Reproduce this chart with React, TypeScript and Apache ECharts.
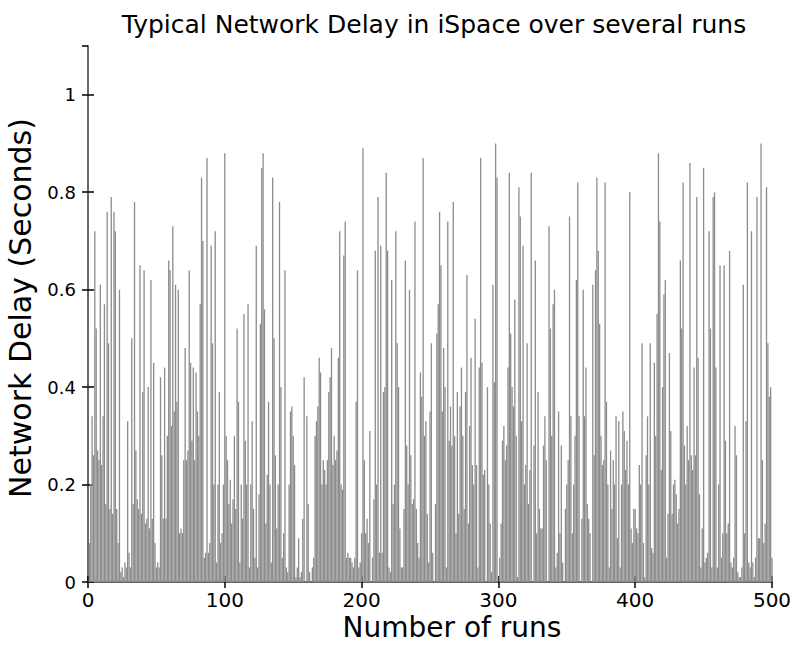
import React, { useEffect, useRef } from "react";
import * as echarts from "echarts";

const runs1to100 = [
  0.08, 0.2, 0.34, 0.26, 0.72, 0.52, 0.27, 0.25, 0.61, 0.24,
  0.34, 0.57, 0.16, 0.76, 0.49, 0.15, 0.79, 0.14, 0.76, 0.72,
  0.15, 0.08, 0.6, 0.02, 0.03, 0.01, 0.04, 0.03, 0.33, 0.06,
  0.03, 0.5, 0.16, 0.78, 0.27, 0.17, 0.15, 0.65, 0.14, 0.39,
  0.64, 0.12, 0.13, 0.4, 0.11, 0.62, 0.13, 0.45, 0.08, 0.03,
  0.04, 0.03, 0.42, 0.26, 0.13, 0.44, 0.13, 0.3, 0.66, 0.64,
  0.32, 0.73, 0.35, 0.61, 0.37, 0.6, 0.1, 0.11, 0.1, 0.25,
  0.48, 0.25, 0.27, 0.64, 0.45, 0.29, 0.44, 0.25, 0.43, 0.35,
  0.3, 0.57, 0.83, 0.7, 0.05, 0.06, 0.87, 0.06, 0.08, 0.69,
  0.49, 0.2, 0.72, 0.04, 0.2, 0.39, 0.08, 0.1, 0.2, 0.88,
];
const runs101to200 = [
  0.3, 0.25, 0.16, 0.21, 0.12, 0.17, 0.3, 0.15, 0.52, 0.37,
  0.04, 0.2, 0.13, 0.55, 0.29, 0.2, 0.57, 0.03, 0.2, 0.33,
  0.15, 0.05, 0.69, 0.03, 0.18, 0.53, 0.85, 0.88, 0.56, 0.12,
  0.22, 0.37, 0.2, 0.04, 0.83, 0.5, 0.26, 0.11, 0.2, 0.78,
  0.4, 0.05, 0.1, 0.64, 0.03, 0.02, 0.2, 0.35, 0.36, 0.3,
  0.24, 0.01, 0.03, 0.09, 0.01, 0.02, 0.13, 0.42, 0.0, 0.34,
  0.16, 0.02, 0.0, 0.03, 0.05, 0.3, 0.33, 0.36, 0.46, 0.43,
  0.2, 0.25, 0.23, 0.2, 0.25, 0.39, 0.42, 0.48, 0.24, 0.3,
  0.25, 0.27, 0.46, 0.72, 0.2, 0.19, 0.67, 0.74, 0.05, 0.06,
  0.05, 0.05, 0.04, 0.03, 0.05, 0.37, 0.64, 0.03, 0.04, 0.1,
];
const runs201to300 = [
  0.89, 0.25, 0.1, 0.13, 0.08, 0.31, 0.0, 0.05, 0.17, 0.68,
  0.2, 0.79, 0.06, 0.69, 0.06, 0.39, 0.4, 0.84, 0.68, 0.03,
  0.02, 0.62, 0.16, 0.2, 0.72, 0.49, 0.4, 0.11, 0.03, 0.03,
  0.15, 0.66, 0.28, 0.2, 0.6, 0.26, 0.16, 0.17, 0.74, 0.15,
  0.08, 0.05, 0.43, 0.38, 0.87, 0.3, 0.33, 0.14, 0.04, 0.35,
  0.49, 0.06, 0.0, 0.16, 0.51, 0.57, 0.76, 0.65, 0.35, 0.48,
  0.4, 0.03, 0.74, 0.29, 0.36, 0.28, 0.78, 0.3, 0.1, 0.39,
  0.14, 0.36, 0.44, 0.3, 0.15, 0.39, 0.63, 0.12, 0.32, 0.46,
  0.24, 0.2, 0.54, 0.24, 0.03, 0.44, 0.87, 0.45, 0.22, 0.23,
  0.0, 0.4, 0.2, 0.12, 0.02, 0.61, 0.41, 0.9, 0.83, 0.0,
];
const runs301to400 = [
  0.05, 0.12, 0.29, 0.32, 0.25, 0.28, 0.44, 0.84, 0.51, 0.4,
  0.36, 0.58, 0.3, 0.01, 0.81, 0.75, 0.33, 0.69, 0.2, 0.24,
  0.49, 0.16, 0.23, 0.84, 0.0, 0.28, 0.66, 0.1, 0.39, 0.15,
  0.11, 0.11, 0.28, 0.34, 0.25, 0.0, 0.73, 0.52, 0.3, 0.57,
  0.6, 0.03, 0.06, 0.35, 0.1, 0.28, 0.04, 0.0, 0.15, 0.2,
  0.25, 0.75, 0.34, 0.1, 0.2, 0.3, 0.62, 0.82, 0.34, 0.0,
  0.13, 0.6, 0.34, 0.44, 0.16, 0.13, 0.1, 0.0, 0.61, 0.26,
  0.64, 0.83, 0.68, 0.53, 0.3, 0.24, 0.25, 0.82, 0.37, 0.2,
  0.03, 0.27, 0.15, 0.25, 0.2, 0.34, 0.09, 0.33, 0.03, 0.2,
  0.35, 0.31, 0.23, 0.29, 0.2, 0.8, 0.11, 0.08, 0.15, 0.15,
];
const runs401to500 = [
  0.11, 0.1, 0.24, 0.2, 0.49, 0.08, 0.01, 0.26, 0.34, 0.2,
  0.49, 0.07, 0.06, 0.45, 0.3, 0.55, 0.88, 0.74, 0.23, 0.4,
  0.59, 0.62, 0.05, 0.14, 0.47, 0.31, 0.14, 0.2, 0.21, 0.18,
  0.12, 0.15, 0.66, 0.52, 0.82, 0.28, 0.2, 0.32, 0.25, 0.86,
  0.26, 0.23, 0.44, 0.26, 0.79, 0.46, 0.18, 0.03, 0.11, 0.85,
  0.04, 0.05, 0.06, 0.72, 0.52, 0.03, 0.79, 0.8, 0.44, 0.03,
  0.2, 0.65, 0.05, 0.1, 0.65, 0.29, 0.1, 0.12, 0.68, 0.04,
  0.03, 0.05, 0.32, 0.26, 0.02, 0.01, 0.01, 0.03, 0.61, 0.1,
  0.33, 0.82, 0.04, 0.03, 0.72, 0.04, 0.01, 0.05, 0.79, 0.09,
  0.09, 0.9, 0.25, 0.08, 0.12, 0.81, 0.49, 0.38, 0.4, 0.05,
];

const delays = [...runs1to100, ...runs101to200, ...runs201to300, ...runs301to400, ...runs401to500];

const titleText = "Typical Network Delay in iSpace over several runs";
const xName = "Number of runs";
const yName = "Network Delay (Seconds)";

const FONT = "'DejaVu Sans', 'Liberation Sans', Arial, sans-serif";

export default function App() {
  const ref = useRef<HTMLDivElement>(null);
  useEffect(() => {
    if (!ref.current) return;
    const chart = echarts.init(ref.current, null, { renderer: "svg" });
    const data = delays.map((v, i) => [i + 1, v]);
    const axisLine = { show: true, lineStyle: { color: "#000", width: 1.5 } };
    const axisLineGrey = { show: true, lineStyle: { color: "#777", width: 1.5 } };
    const tick = { show: true, inside: true, length: 6, lineStyle: { color: "#000", width: 1.5 } };
    chart.setOption({
      animation: false,
      backgroundColor: "#ffffff",
      title: {
        text: titleText,
        left: 429,
        textAlign: "center",
        top: 7,
        textStyle: { color: "#000", fontSize: 25, fontWeight: "normal", fontFamily: FONT },
      },
      grid: { left: 88, right: 22, top: 46, bottom: 64, outerBoundsMode: "none" },
      graphic: [
        {
          type: "text",
          x: 452,
          y: 627,
          silent: true,
          style: {
            text: xName,
            fill: "#000",
            fontSize: 28,
            fontFamily: FONT,
            align: "center",
            verticalAlign: "middle",
          },
        },
        {
          type: "text",
          x: 20,
          y: 308,
          rotation: Math.PI / 2,
          silent: true,
          style: {
            text: yName,
            fill: "#000",
            fontSize: 30,
            fontFamily: FONT,
            align: "center",
            verticalAlign: "middle",
          },
        },
      ],
      xAxis: [
        {
          type: "value",
          min: 0,
          max: 500,
          interval: 100,
          position: "bottom",
          axisLine,
          axisTick: tick,
          axisLabel: { color: "#000", fontSize: 20, fontFamily: FONT, margin: 8 },
          splitLine: { show: false },
        },
        {
          type: "value",
          min: 0,
          max: 500,
          interval: 100,
          position: "top",
          axisLine: axisLineGrey,
          axisTick: tick,
          axisLabel: { show: false },
          splitLine: { show: false },
        },
      ],
      yAxis: [
        {
          type: "value",
          min: 0,
          max: 1.1,
          interval: 0.2,
          position: "left",
          axisLine,
          axisTick: tick,
          axisLabel: { color: "#000", fontSize: 18, fontFamily: FONT, margin: 12, showMaxLabel: false },
          splitLine: { show: false },
        },
        {
          type: "value",
          min: 0,
          max: 1.1,
          interval: 0.2,
          position: "right",
          axisLine: axisLineGrey,
          axisTick: tick,
          axisLabel: { show: false },
          splitLine: { show: false },
        },
      ],
      series: [
        {
          type: "bar",
          data,
          xAxisIndex: 0,
          yAxisIndex: 0,
          barWidth: 1.3,
          silent: true,
          itemStyle: { color: "#8c8c8c" },
        },
      ],
    });
    return () => chart.dispose();
  }, []);
  return <div ref={ref} style={{ position: "fixed", left: 0, top: 0, width: 794, height: 646 }} />;
}
